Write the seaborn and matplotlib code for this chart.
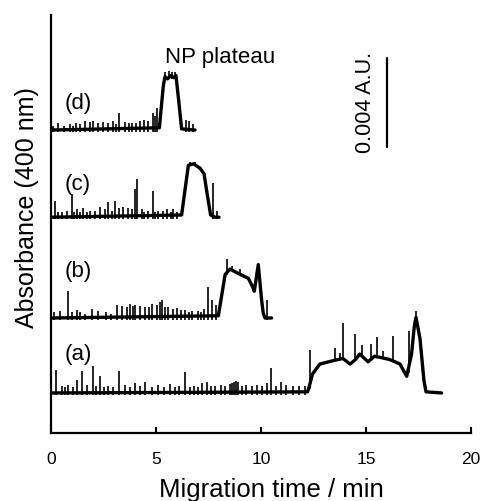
import numpy as np
import pandas as pd
import matplotlib
matplotlib.use('Agg')
import matplotlib.pyplot as plt
import seaborn as sns

# trace outlines: time (min) and absorbance above own baseline (mAU)
a_t = [0, 12.22, 12.33, 12.45, 12.57, 12.8, 13.43, 13.9, 14.24, 14.5, 14.7, 15.1, 15.4, 15.67,
       16.14, 16.62, 16.76, 16.94, 17.17, 17.3, 17.38, 17.57, 17.76, 17.86, 18.6]
a_y = [0, 0.05, 0.4, 0.85, 1.0, 1.3, 1.45, 1.55, 1.3, 1.5, 1.75, 1.4, 1.65, 1.6,
       1.5, 1.3, 1.05, 0.75, 1.75, 3.0, 3.4, 2.45, 0.55, 0.05, 0]
b_t = [0, 7.97, 8.29, 8.52, 8.92, 9.4, 9.6, 9.68, 9.87, 10.03, 10.11, 10.19, 10.5]
b_y = [0, 0.1, 1.95, 2.2, 2.0, 1.78, 1.4, 1.2, 2.4, 0.8, 0.2, 0, 0]
c_t = [0, 6.22, 6.54, 6.78, 7.1, 7.29, 7.41, 7.6, 7.81, 8.0]
c_y = [0, 0.1, 2.33, 2.4, 2.2, 1.95, 1.2, 0.1, 0, 0]
d_t = [0, 5.16, 5.35, 5.43, 5.55, 5.7, 5.85, 5.95, 6.06, 6.22, 6.86]
d_y = [0, 0.1, 2.0, 2.4, 2.3, 2.45, 2.35, 2.45, 1.5, 0.05, 0]

# spikes on the baseline: time, height (mAU)
a_spk_t = [0.24, 0.5, 0.65, 0.8, 1.05, 1.25, 1.46, 1.7, 1.98, 2.15, 2.33, 2.5, 2.7, 2.95, 3.24,
           3.5, 3.75, 4.0, 4.25, 4.48, 4.8, 5.1, 5.4, 5.67, 5.9, 6.1, 6.38, 6.6, 6.8, 7.0,
           7.17, 7.41, 7.6, 7.8, 8.1, 8.3, 8.5, 8.6, 8.7, 8.8, 8.9, 9.1, 9.3, 9.55, 9.82,
           10.05, 10.27, 10.46, 10.7, 10.94, 11.2, 11.5, 11.8, 12.1]
a_spk_h = [1.05, 0.3, 0.25, 0.35, 0.25, 0.6, 1.0, 0.35, 1.23, 0.3, 0.75, 0.25, 0.3, 0.25, 1.0,
           0.35, 0.25, 0.45, 0.3, 0.5, 0.25, 0.35, 0.25, 0.4, 0.25, 0.3, 0.95, 0.25, 0.3, 0.25,
           0.45, 0.5, 0.3, 0.3, 0.35, 0.3, 0.4, 0.45, 0.5, 0.55, 0.5, 0.3, 0.35, 0.3, 0.35,
           0.3, 0.45, 1.1, 0.3, 0.5, 0.35, 0.3, 0.3, 0.3]
b_spk_t = [0.15, 0.43, 0.83, 1.0, 1.22, 1.4, 1.6, 1.94, 2.25, 2.6, 2.85, 3.13, 3.37, 3.6, 3.76,
           3.9, 4.0, 4.24, 4.48, 4.65, 4.8, 5.03, 5.2, 5.27, 5.45, 5.59, 5.8, 5.98, 6.2, 6.38,
           6.55, 6.7, 7.0, 7.15, 7.3, 7.49, 7.65, 7.84, 10.27]
b_spk_h = [0.25, 0.3, 1.2, 0.25, 0.37, 0.25, 0.2, 0.4, 0.3, 0.25, 0.2, 0.6, 0.55, 0.5, 0.65,
           0.55, 0.6, 0.55, 0.5, 0.5, 0.65, 0.6, 0.7, 0.8, 0.5, 0.5, 0.4, 0.45, 0.35, 0.35,
           0.25, 0.3, 0.3, 0.25, 0.4, 1.4, 0.8, 0.6, 0.8]
c_spk_t = [0.19, 0.35, 0.51, 0.75, 0.98, 1.1, 1.22, 1.4, 1.54, 1.7, 1.86, 2.1, 2.33, 2.55,
           2.73, 2.9, 3.05, 3.25, 3.44, 3.68, 3.85, 4.0, 4.08, 4.32, 4.45, 4.6, 4.84, 4.95,
           5.11, 5.35, 5.51, 5.7, 5.83, 6.0, 7.7, 7.9]
c_spk_h = [0.75, 0.25, 0.25, 0.3, 1.05, 0.25, 0.35, 0.25, 0.4, 0.25, 0.3, 0.3, 0.45, 0.35,
           0.67, 0.3, 0.75, 0.4, 0.45, 0.4, 0.35, 1.27, 1.72, 0.35, 0.25, 0.3, 1.17, 0.25,
           0.3, 0.3, 0.35, 0.25, 0.35, 0.25, 1.52, 0.3]
d_spk_t = [0.1, 0.35, 0.6, 0.9, 1.05, 1.2, 1.4, 1.62, 1.86, 2.02, 2.25, 2.49, 2.7, 2.97, 3.1,
           3.24, 3.52, 3.7, 3.84, 4.05, 4.24, 4.43, 4.63, 4.87, 4.95, 5.03, 6.43, 6.59, 6.75]
d_spk_h = [0.2, 0.3, 0.2, 0.25, 0.2, 0.3, 0.25, 0.4, 0.37, 0.4, 0.3, 0.35, 0.3, 0.4, 0.25,
           0.75, 0.35, 0.3, 0.3, 0.3, 0.4, 0.45, 0.4, 0.75, 0.65, 1.0, 0.45, 0.4, 0.25]

# spikes riding on the plateaus: time, low, high (mAU)
a_top_t = [12.33, 13.52, 13.76, 13.89, 14.48, 14.8, 15.22, 15.5, 15.8, 16.3, 17.06, 17.38]
a_top_lo = [0.2, 1.45, 1.5, 1.5, 1.45, 1.7, 1.5, 1.6, 1.6, 1.5, 0.9, 3.3]
a_top_hi = [1.95, 2.0, 1.8, 3.15, 2.65, 2.15, 2.2, 2.5, 1.9, 2.55, 2.8, 3.7]
b_top_t = [8.37, 8.6, 9.0]
b_top_lo = [1.95, 2.1, 1.95]
b_top_hi = [2.65, 2.35, 2.2]
c_top_t = [6.6, 6.85]
c_top_lo = [2.3, 2.3]
c_top_hi = [2.5, 2.5]
d_top_t = [5.45, 5.6, 5.75, 5.9]
d_top_lo = [2.3, 2.3, 2.3, 2.3]
d_top_hi = [2.6, 2.65, 2.6, 2.62]

labels = ['(a)', '(b)', '(c)', '(d)']
offsets = [1.8, 5.17, 9.7, 13.62]

traces = [(a_t, a_y, a_spk_t, a_spk_h, a_top_t, a_top_lo, a_top_hi),
          (b_t, b_y, b_spk_t, b_spk_h, b_top_t, b_top_lo, b_top_hi),
          (c_t, c_y, c_spk_t, c_spk_h, c_top_t, c_top_lo, c_top_hi),
          (d_t, d_y, d_spk_t, d_spk_h, d_top_t, d_top_lo, d_top_hi)]

sns.set_style('ticks')
plt.rcParams['font.family'] = ['Liberation Sans', 'DejaVu Sans']
plt.rcParams['text.color'] = 'black'
plt.rcParams['axes.labelcolor'] = 'black'
plt.rcParams['xtick.color'] = 'black'
plt.rcParams['axes.edgecolor'] = 'black'

fig = plt.figure(figsize=(4.81, 5.01), dpi=100)
ax = fig.add_axes([51 / 481, 68 / 501, 420 / 481, 418 / 501])

rows = []
for lab, off, tr in zip(labels, offsets, traces):
    for t, y in zip(tr[0], tr[1]):
        rows.append({'trace': lab, 'time': t, 'abs': y + off})
df = pd.DataFrame(rows)

sns.lineplot(data=df, x='time', y='abs', units='trace', estimator=None, sort=False,
             color='black', lw=2.4, ax=ax)

for lab, off, tr in zip(labels, offsets, traces):
    st = np.array(tr[2])
    sh = np.array(tr[3])
    ax.vlines(st, off - 0.1, off + sh, color='black', lw=1.2)
    ax.vlines(tr[4], np.array(tr[5]) + off, np.array(tr[6]) + off, color='black', lw=1.2)

# trace labels
lab_y = [3.55, 7.25, 11.19, 14.83]
for lab, y in zip(labels, lab_y):
    ax.text(0.67, y, lab, fontsize=16, ha='left', va='center')

ax.text(5.43, 16.63, 'NP plateau', fontsize=16, ha='left', va='baseline')

# scale bar 0.004 A.U.
ax.plot([16, 16], [12.85, 16.85], color='black', lw=1.6)
ax.text(14.97, 14.85, '0.004 A.U.', fontsize=15.5, rotation=90, ha='center', va='center')

ax.set_xlim(0, 20)
ax.set_ylim(0, 18.79)
ax.set_xticks([0, 5, 10, 15, 20])
ax.set_yticks([])
ax.tick_params(axis='x', direction='in', length=4.3, width=1.5, labelsize=12.5, pad=14)
for s in ['left', 'bottom']:
    ax.spines[s].set_linewidth(1.6)
sns.despine(ax=ax)

ax.set_xlabel('Migration time / min', fontsize=18.5)
ax.xaxis.set_label_coords(0.525, -0.108)
ax.set_ylabel('Absorbance (400 nm)', fontsize=18)
ax.yaxis.set_label_coords(-0.028, 0.54)

fig.savefig('out.png', dpi=100)
